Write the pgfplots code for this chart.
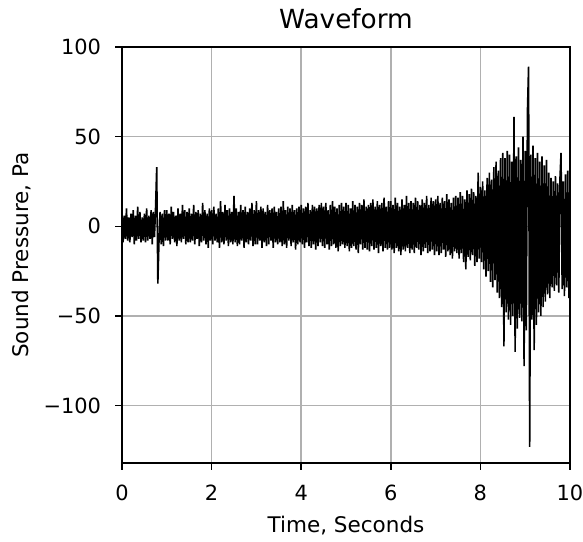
\documentclass[border=0pt]{standalone}
\usepackage{pgfplots}
\pgfplotsset{compat=1.18}
\usepackage{fontspec}
\setmainfont{DejaVu Sans}
\definecolor{gridc}{HTML}{B0B0B0}
\begin{document}
\begin{tikzpicture}
\begin{axis}[
  at={(0,0)}, anchor=south west,
  scale only axis,
  width=224bp, height=208bp,
  xmin=0, xmax=10, ymin=-132, ymax=100,
  xtick={0,2,4,6,8,10},
  ytick={-100,-50,0,50,100},
  yticklabels={−100,−50,0,50,100},
  /pgf/number format/assume math mode=true,
  tick pos=left,
  tick align=outside,
  major tick length=3.5pt,
  every tick/.style={black, line width=0.8pt},
  axis line style={line width=0.8pt},
  grid=major,
  major grid style={gridc, line width=0.8pt},
  tick label style={font=\fontsize{10.5}{12}\selectfont},
  yticklabel shift=3.5bp,
  xticklabel shift=4bp,
  label style={font=\fontsize{10.8}{13}\selectfont},
  title style={font=\fontsize{13.2}{15}\selectfont, at={(axis description cs:0.5,1.0397)}, anchor=center},
  x label style={at={(axis description cs:0.5,-0.1514)}, anchor=center},
  y label style={at={(axis description cs:-0.2232,0.5)}, anchor=center},
  title={Waveform},
  xlabel={Time, Seconds},
  ylabel={Sound Pressure, Pa},
]
\addplot[black, line width=0.8pt] table[header=false, row sep=\\, x expr=\coordindex*0.025, y index=0] {
8\\ -9\\ 6\\ -7\\ 10\\ -8\\ 5\\ -9\\ 7\\ -6\\ 9\\ -10\\ 6\\ -8\\ 11\\ -7\\ 8\\ -9\\ 5\\ -8\\
7\\ -9\\ 10\\ -8\\ 6\\ -7\\ 9\\ -10\\ 8\\ -6\\ 11\\ 33\\ -32\\ -9\\ 8\\ -10\\ 7\\ -11\\ 9\\ -8\\
9\\ -8\\ 7\\ -10\\ 11\\ -7\\ 8\\ -9\\ 6\\ -11\\ 10\\ -8\\ 7\\ -9\\ 12\\ -7\\ 9\\ -10\\ 8\\ -9\\
10\\ -9\\ 7\\ -8\\ 12\\ -10\\ 8\\ -7\\ 9\\ -11\\ 7\\ -9\\ 13\\ -8\\ 9\\ -10\\ 7\\ -12\\ 10\\ -8\\
9\\ -10\\ 11\\ -8\\ 7\\ -9\\ 10\\ -12\\ 14\\ -9\\ 8\\ -10\\ 12\\ -8\\ 9\\ -11\\ 10\\ -9\\ 8\\ -10\\
17\\ -9\\ 10\\ -11\\ 8\\ -10\\ 12\\ -8\\ 9\\ -12\\ 11\\ -9\\ 8\\ -10\\ 10\\ -8\\ 13\\ -11\\ 9\\ -10\\
14\\ -10\\ 9\\ -8\\ 11\\ -12\\ 10\\ -9\\ 8\\ -11\\ 12\\ -10\\ 9\\ -8\\ 10\\ -12\\ 11\\ -9\\ 8\\ -10\\
10\\ -9\\ 11\\ -11\\ 14\\ -10\\ 9\\ -12\\ 11\\ -8\\ 10\\ -11\\ 12\\ -9\\ 9\\ -13\\ 10\\ -10\\ 11\\ -9\\
12\\ -10\\ 10\\ -12\\ 11\\ -9\\ 13\\ -11\\ 9\\ -12\\ 12\\ -10\\ 11\\ -13\\ 10\\ -11\\ 12\\ -9\\ 13\\ -11\\
11\\ -12\\ 13\\ -10\\ 9\\ -13\\ 12\\ -11\\ 14\\ -10\\ 11\\ -12\\ 10\\ -14\\ 12\\ -11\\ 13\\ -10\\ 11\\ -12\\
13\\ -11\\ 12\\ -14\\ 10\\ -12\\ 14\\ -11\\ 12\\ -13\\ 11\\ -15\\ 13\\ -10\\ 12\\ -13\\ 15\\ -12\\ 11\\ -13\\
12\\ -14\\ 13\\ -11\\ 15\\ -13\\ 11\\ -12\\ 14\\ -15\\ 12\\ -11\\ 13\\ -14\\ 16\\ -12\\ 11\\ -13\\ 14\\ -12\\
14\\ -13\\ 12\\ -15\\ 16\\ -12\\ 13\\ -14\\ 11\\ -16\\ 15\\ -13\\ 12\\ -14\\ 17\\ -12\\ 13\\ -15\\ 14\\ -13\\
13\\ -15\\ 16\\ -12\\ 14\\ -13\\ 12\\ -16\\ 15\\ -14\\ 13\\ -12\\ 17\\ -15\\ 12\\ -14\\ 16\\ -13\\ 14\\ -16\\
15\\ -14\\ 17\\ -16\\ 13\\ -15\\ 16\\ -13\\ 14\\ -17\\ 18\\ -14\\ 15\\ -16\\ 13\\ -18\\ 16\\ -14\\ 17\\ -15\\
16\\ -18\\ 19\\ -15\\ 17\\ -20\\ 15\\ -24\\ 20\\ -17\\ 18\\ -19\\ 21\\ -16\\ 19\\ -22\\ 17\\ -20\\ 30\\ -18\\
22\\ -20\\ 25\\ -24\\ 20\\ -28\\ 27\\ -25\\ 30\\ -31\\ 26\\ -34\\ 33\\ -30\\ 36\\ -37\\ 31\\ -40\\ 38\\ -45\\
41\\ -67\\ 38\\ -48\\ 42\\ -52\\ 40\\ -55\\ 36\\ -50\\ 61\\ -70\\ 39\\ -57\\ 44\\ -51\\ 37\\ -53\\ 50\\ -78\\
42\\ -58\\ 64\\ 89\\ -123\\ 40\\ -52\\ 45\\ -69\\ 38\\ -55\\ 41\\ -48\\ 36\\ -50\\ 39\\ -45\\ 34\\ -42\\ 37\\
-38\\ 30\\ -40\\ 27\\ -34\\ 25\\ -36\\ 28\\ -33\\ 24\\ -37\\ 26\\ 41\\ -35\\ 25\\ -39\\ 29\\ -34\\ 31\\ -40\\
28\\
};
\end{axis}
\pgfresetboundingbox
\path[use as bounding box] (-61bp,-39.5bp) rectangle (230.5bp,231.5bp);
\end{tikzpicture}
\end{document}
